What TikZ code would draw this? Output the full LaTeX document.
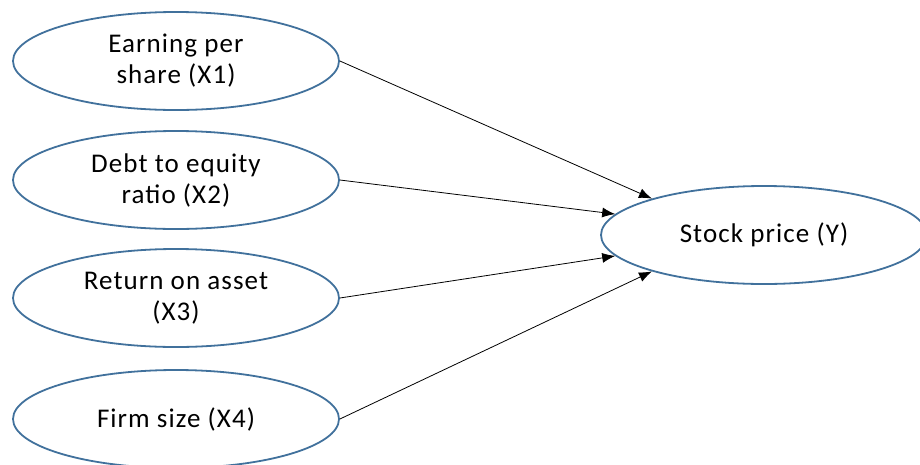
\documentclass[tikz,border=0pt]{standalone}
\usepackage{fontspec}
\setmainfont{Carlito}[LetterSpace=4]
\usetikzlibrary{shapes.geometric,arrows.meta}
\definecolor{rimblue}{HTML}{41719C}
\tikzset{
  factor/.style={ellipse, draw=rimblue, line width=1.8pt, fill=white,
    minimum width=326pt, minimum height=98pt, inner sep=0pt,
    align=center, font=\fontsize{27}{31}\selectfont},
  link/.style={draw=black, line width=0.8pt, -{Latex[length=13pt,width=10pt]}}
}
\begin{document}
\begin{tikzpicture}[x=1pt,y=-1pt]
  \useasboundingbox (0,0) rectangle (920,464);
  \clip (0,0) rectangle (920,464);
  % predictors
  \node[factor] (x1) at (176,61)  {Earning per\\share (X1)};
  \node[factor] (x2) at (176,180) {Debt to equity\\ratio (X2)};
  \node[factor] (x3) at (176,298) {Return on asset\\(X3)};
  \node[factor] (x4) at (176,419) {Firm size (X4)};
  % outcome
  \node[factor] (y) at (764,235) {Stock price (Y)};
  % paths
  \draw[link] (x1.east) -- (y.162);
  \draw[link] (x2.east) -- (y.172);
  \draw[link] (x3.east) -- (y.188);
  \draw[link] (x4.east) -- (y.198);
\end{tikzpicture}
\end{document}
